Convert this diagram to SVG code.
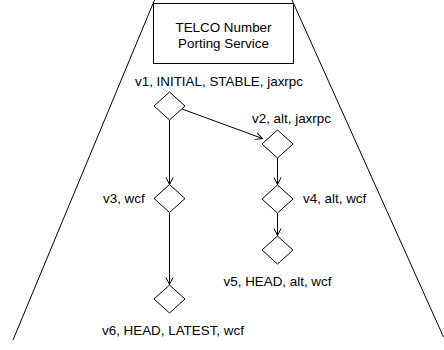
<svg xmlns="http://www.w3.org/2000/svg" width="444" height="350" viewBox="0 0 444 350">
<style>
.t{font-family:"Liberation Sans",Arial,Helvetica,sans-serif;font-size:13.4px;fill:#000}
.s{fill:#fff;stroke:#000;stroke-width:1}
.e{fill:none;stroke:#000;stroke-width:1}
</style>
<defs>
<marker id="arr" markerUnits="userSpaceOnUse" markerWidth="12" markerHeight="12" refX="8" refY="6" orient="auto" viewBox="0 0 12 12">
<path d="M1,2.5 L8,6 L1,9.5" fill="none" stroke="#000" stroke-width="1"/>
</marker>
</defs>
<g id="frame">
<line class="e" x1="154.5" y1="0" x2="13" y2="340"/>
<line class="e" x1="292" y1="0" x2="443.5" y2="337"/>
</g>
<g id="service">
<rect class="s" x="153.5" y="3.5" width="140" height="60"/>
<text class="t" x="223.5" y="31.5" text-anchor="middle">TELCO Number</text>
<text class="t" x="223.5" y="47.5" text-anchor="middle">Porting Service</text>
</g>
<g id="connectors">
<line class="e" x1="182" y1="109" x2="262.5" y2="138.5" marker-end="url(#arr)"/>
<line class="e" x1="169.5" y1="120" x2="169.5" y2="184.5" marker-end="url(#arr)"/>
<line class="e" x1="169.5" y1="212.5" x2="169.5" y2="284.5" marker-end="url(#arr)"/>
<line class="e" x1="277.5" y1="158" x2="277.5" y2="184.5" marker-end="url(#arr)"/>
<line class="e" x1="277.5" y1="213" x2="277.5" y2="235.5" marker-end="url(#arr)"/>
</g>
<g id="v1">
<path class="s" d="M169.5,92 L185,106 L169.5,120 L154,106 Z"/>
<text class="t" x="135" y="86">v1, INITIAL, STABLE, jaxrpc</text>
</g>
<g id="v2">
<path class="s" d="M277.5,130 L293,144 L277.5,158 L262,144 Z"/>
<text class="t" x="252" y="123">v2, alt, jaxrpc</text>
</g>
<g id="v3">
<path class="s" d="M169.5,184.5 L185,198.5 L169.5,212.5 L154,198.5 Z"/>
<text class="t" x="103" y="202.5">v3, wcf</text>
</g>
<g id="v4">
<path class="s" d="M277.5,185 L293,199 L277.5,213 L262,199 Z"/>
<text class="t" x="303" y="203">v4, alt, wcf</text>
</g>
<g id="v5">
<path class="s" d="M277.5,236 L293,250 L277.5,264 L262,250 Z"/>
<text class="t" x="277.5" y="286" text-anchor="middle">v5, HEAD, alt, wcf</text>
</g>
<g id="v6">
<path class="s" d="M169.5,285 L185,299 L169.5,313 L154,299 Z"/>
<text class="t" x="102" y="335">v6, HEAD, LATEST, wcf</text>
</g>
</svg>
